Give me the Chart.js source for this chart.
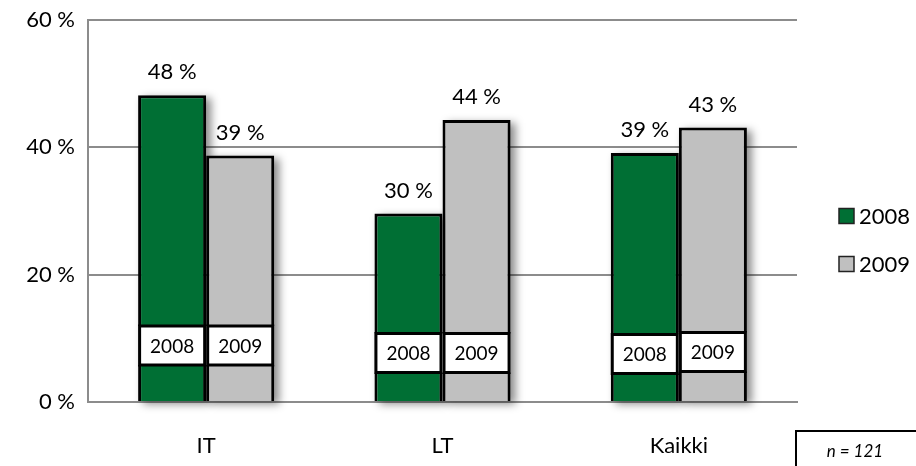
<!DOCTYPE html>
<html>
<head>
<meta charset="utf-8">
<script src="https://cdn.jsdelivr.net/npm/chart.js@4/dist/chart.umd.min.js"></script>
<style>
  html, body { margin: 0; padding: 0; background: #ffffff; }
  canvas { display: block; }
</style>
</head>
<body>
<canvas id="c" width="916" height="466"></canvas>
<script>
const categories = ['IT', 'LT', 'Kaikki'];
const seriesNames = ['2008', '2009'];
const values2008 = [48.2, 29.6, 39.1];
const values2009 = [38.7, 44.3, 43.1];
const yTickValues = [0, 20, 40, 60];
const sampleNote = 'n = 121';

const FONT = 'Lato, "Open Sans", sans-serif';
const GREEN = '#006f34';
const GREY = '#c0c0c0';
const GRID = '#8c8c8c';

const shadowPlugin = {
  id: 'barShadow',
  beforeDatasetsDraw(chart) {
    const ctx = chart.ctx;
    ctx.save();
    ctx.filter = 'blur(4px)';
    ctx.fillStyle = 'rgba(0,0,0,0.45)';
    chart.data.datasets.forEach((ds, di) => {
      chart.getDatasetMeta(di).data.forEach(bar => {
        const w = bar.width;
        const top = Math.min(bar.y, bar.base);
        const h = Math.abs(bar.base - bar.y);
        ctx.fillRect(bar.x - w / 2 + 5, top + 3, w, h);
      });
    });
    ctx.restore();
  }
};

const labelsPlugin = {
  id: 'barLabels',
  afterDatasetsDraw(chart) {
    const ctx = chart.ctx;
    const boxCentres = [345.5, 353, 353];
    ctx.save();
    chart.data.datasets.forEach((ds, di) => {
      const meta = chart.getDatasetMeta(di);
      meta.data.forEach((bar, i) => {
        const v = ds.data[i];
        ctx.fillStyle = '#000';
        ctx.font = '22px ' + FONT;
        ctx.textAlign = 'center';
        ctx.textBaseline = 'middle';
        ctx.fillText(Math.round(v) + ' %', bar.x, bar.y - 23);
        const w = bar.width;
        const h = 39;
        const cy = boxCentres[i] + (i === 2 ? (di === 0 ? 1 : -1) : 0);
        const x0 = bar.x - w / 2;
        const y0 = cy - h / 2;
        ctx.fillStyle = '#fff';
        ctx.fillRect(x0, y0, w, h);
        ctx.lineWidth = 3;
        ctx.strokeStyle = '#000';
        ctx.strokeRect(x0 + 1.5, y0, w - 3, h);
        ctx.fillStyle = '#000';
        ctx.font = '19px ' + FONT;
        ctx.fillText(seriesNames[di], bar.x, cy + 1);
      });
    });
    ctx.restore();
  }
};

const legendPlugin = {
  id: 'sideLegend',
  afterDraw(chart) {
    const ctx = chart.ctx;
    const colors = [GREEN, GREY];
    const ys = [216, 264];
    ctx.save();
    seriesNames.forEach((name, i) => {
      ctx.fillStyle = colors[i];
      ctx.fillRect(839, ys[i] - 7.5, 15, 15);
      ctx.strokeStyle = '#222';
      ctx.lineWidth = 1.5;
      ctx.strokeRect(839, ys[i] - 7.5, 15, 15);
      ctx.fillStyle = '#000';
      ctx.font = '22px ' + FONT;
      ctx.textAlign = 'left';
      ctx.textBaseline = 'middle';
      ctx.fillText(name, 859, ys[i] + 1);
    });
    ctx.strokeStyle = '#000';
    ctx.lineWidth = 2;
    ctx.strokeRect(796, 431, 140, 60);
    ctx.font = 'italic 17px ' + FONT;
    ctx.textAlign = 'center';
    ctx.fillText(sampleNote, 855, 452);
    ctx.restore();
  }
};

new Chart(document.getElementById('c'), {
  type: 'bar',
  data: {
    labels: categories,
    datasets: [
      { label: seriesNames[0], data: values2008, backgroundColor: GREEN, borderColor: '#000', borderWidth: 3, borderSkipped: 'bottom' },
      { label: seriesNames[1], data: values2009, backgroundColor: GREY, borderColor: '#000', borderWidth: 3, borderSkipped: 'bottom' }
    ]
  },
  options: {
    responsive: false,
    animation: false,
    devicePixelRatio: 1,
    layout: { padding: { top: 20, right: 119, left: 0, bottom: 0 } },
    datasets: { bar: { barPercentage: 1, categoryPercentage: 0.576 } },
    plugins: { legend: { display: false }, tooltip: { enabled: false } },
    scales: {
      x: {
        grid: { display: false },
        border: { display: true, color: GRID, width: 2 },
        ticks: { color: '#000', font: { family: FONT, size: 22 }, padding: 23 },
        afterFit(s) { s.height = 64; s.paddingLeft = 0; s.paddingRight = 0; }
      },
      y: {
        min: 0, max: 60,
        afterBuildTicks(s) { s.ticks = yTickValues.map(v => ({ value: v })); },
        ticks: { color: '#000', font: { family: FONT, size: 22 }, padding: 13, callback: v => v + ' %' },
        grid: { color: GRID, lineWidth: 2, drawTicks: false },
        border: { display: true, color: GRID, width: 2 },
        afterFit(s) { s.width = 88; s.paddingTop = 0; s.paddingBottom = 0; }
      }
    }
  },
  plugins: [shadowPlugin, labelsPlugin, legendPlugin]
});
</script>
</body>
</html>
